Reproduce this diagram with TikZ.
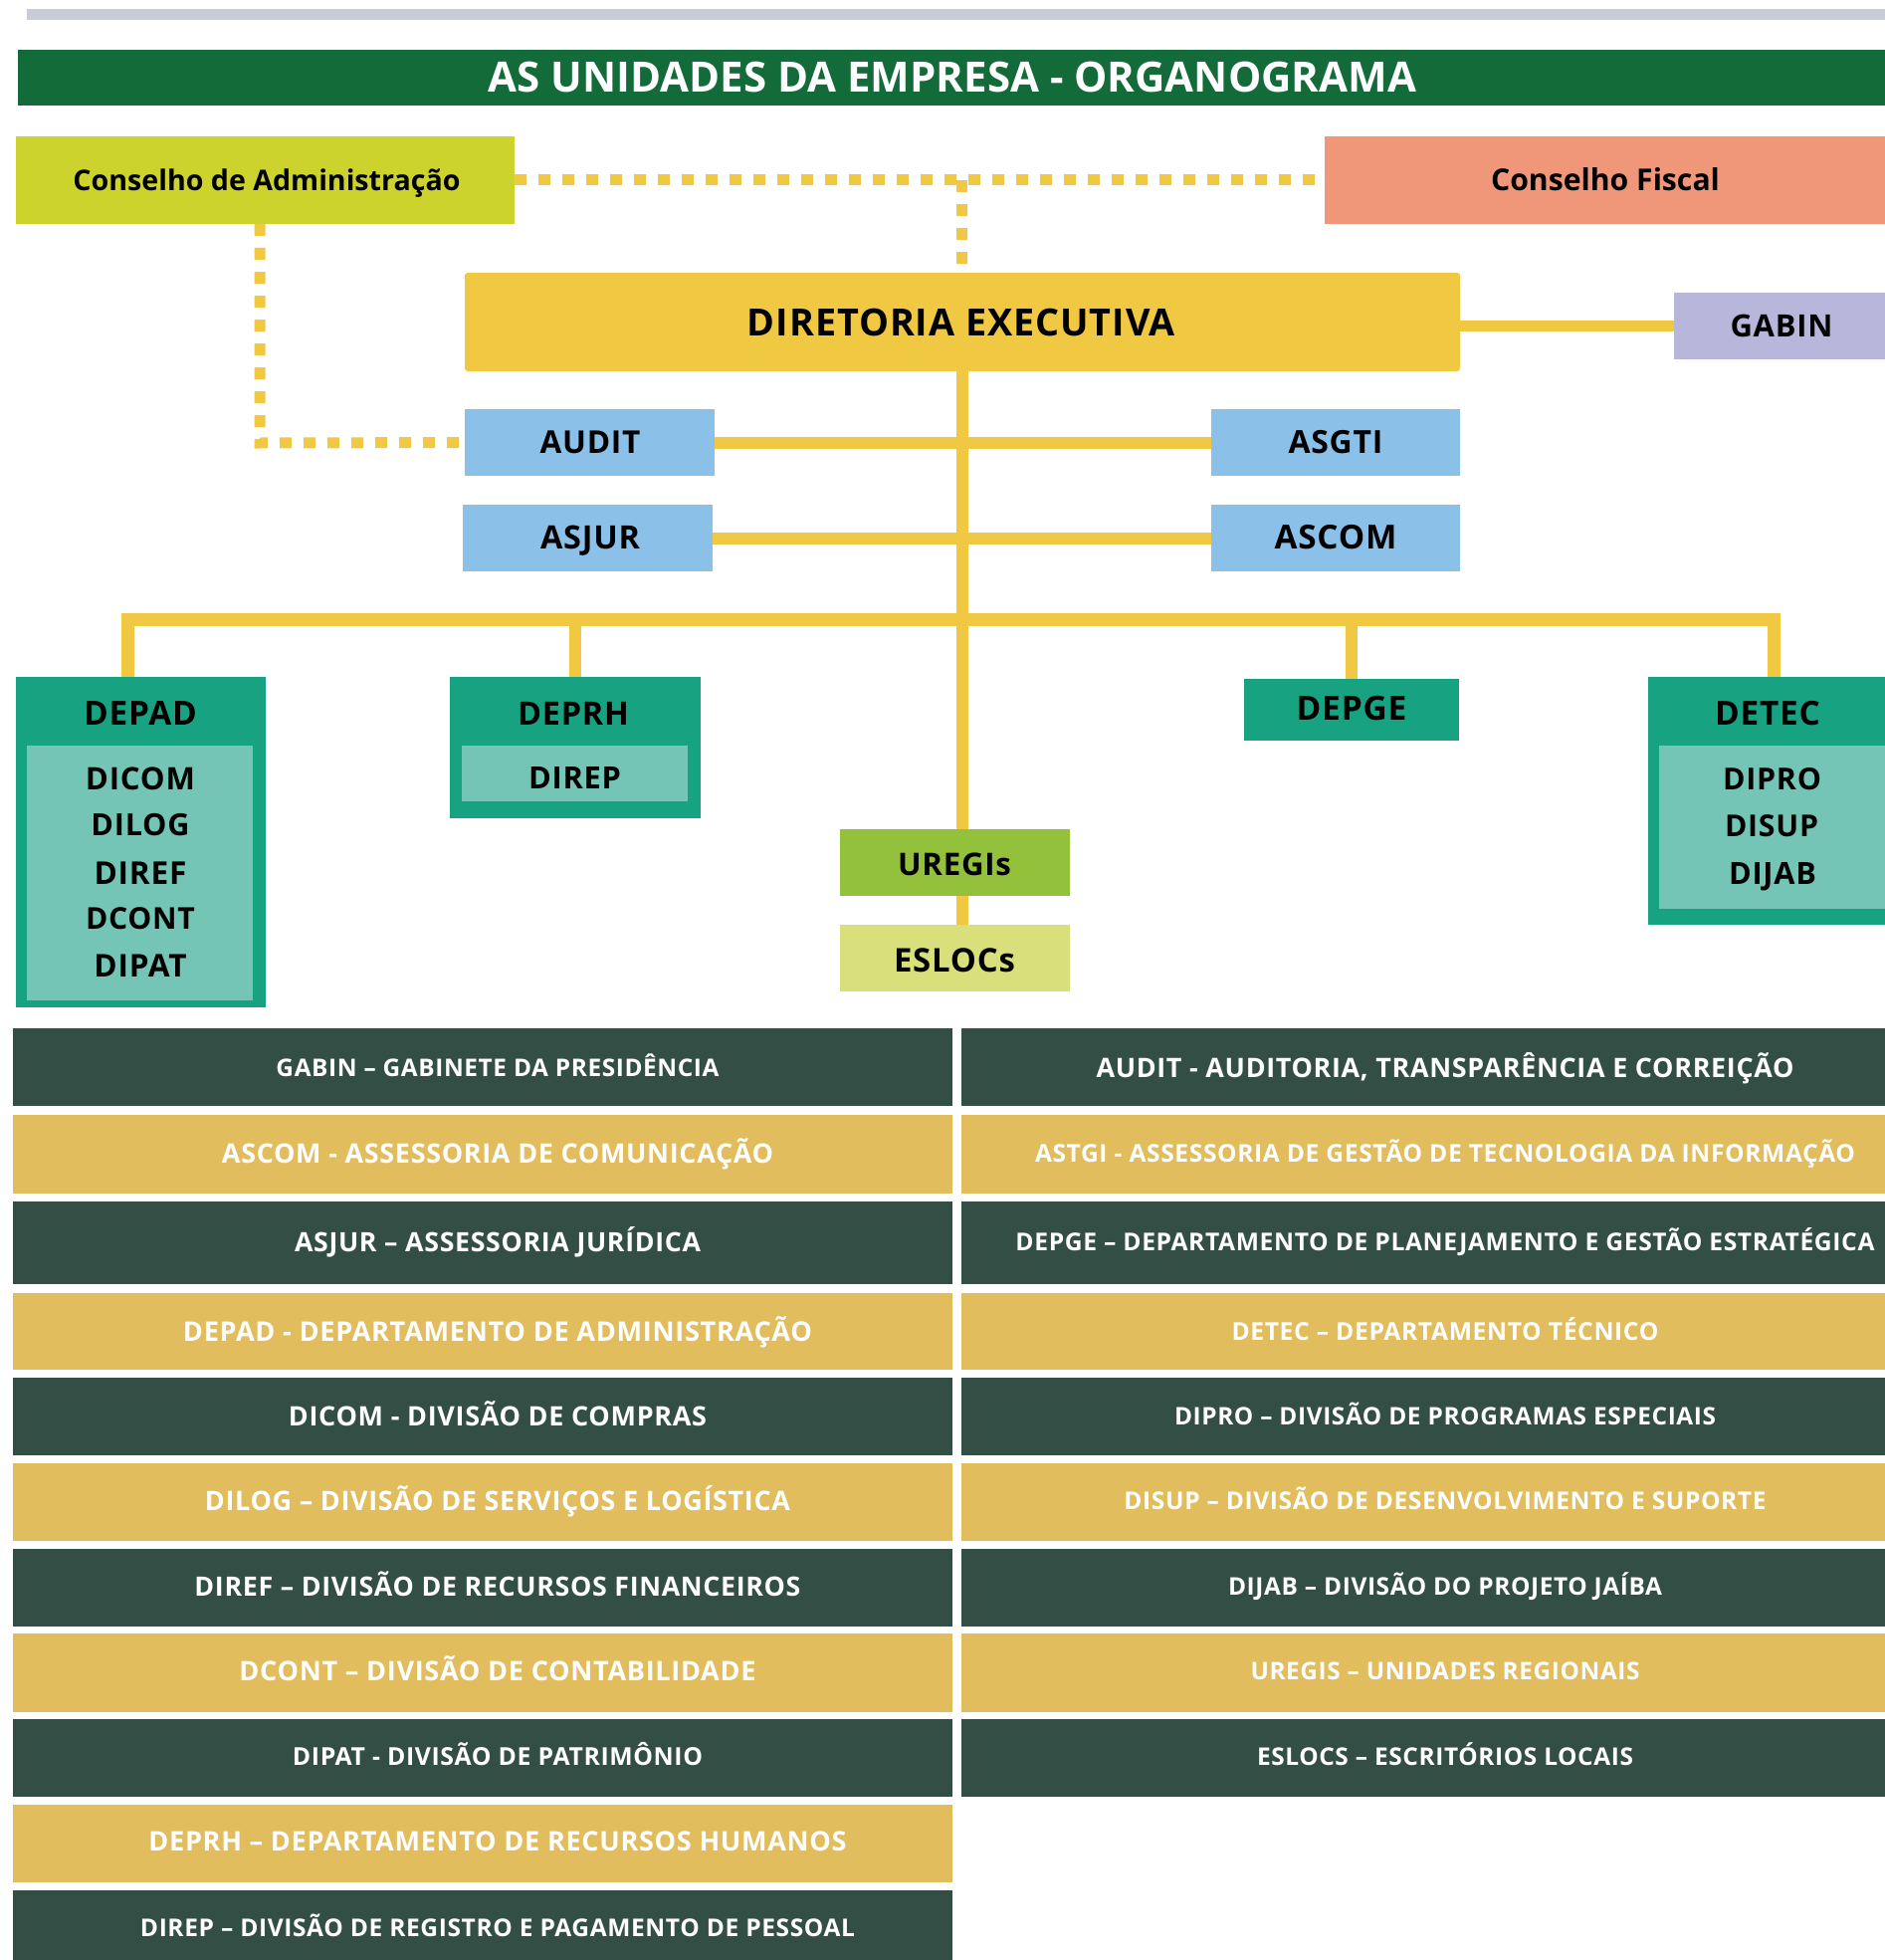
\documentclass[tikz,border=0pt]{standalone}
\usepackage{fontspec}
\usepackage{graphicx}
\setmainfont{Open Sans}
\newfontfamily\lsfont{Open Sans}[LetterSpace=2.5]
\definecolor{cgray}{HTML}{C9CBD8}
\definecolor{ctitle}{HTML}{146B3A}
\definecolor{cadm}{HTML}{CDD32D}
\definecolor{cfis}{HTML}{F19779}
\definecolor{cyellow}{HTML}{F0C841}
\definecolor{cgabin}{HTML}{B9B6DB}
\definecolor{cblue}{HTML}{8BC1E9}
\definecolor{cteal}{HTML}{17A382}
\definecolor{clight}{HTML}{74C5B5}
\definecolor{curegis}{HTML}{93C13B}
\definecolor{ceslocs}{HTML}{D9E07B}
\definecolor{cdark}{HTML}{334F45}
\definecolor{crow}{HTML}{E2BD5D}
\newcommand{\fitw}[2]{\resizebox{#1pt}{!}{\rule[-6pt]{0pt}{26.3pt}#2}}
\tikzset{
  box/.style={rectangle, inner sep=0pt, outer sep=0pt, draw=none},
  conn/.style={draw=cyellow, line width=12pt},
  dots/.style={draw=cyellow, line width=11pt, dash pattern=on 12pt off 12pt},
  lbl/.style={inner sep=0pt, outer sep=0pt, text=black},
  wlbl/.style={inner sep=0pt, outer sep=0pt, text=white},
  darkrow/.style={box, fill=cdark},
  yelrow/.style={box, fill=crow},
}
\begin{document}
\begin{tikzpicture}[x=1pt, y=-1pt, font=\fontsize{20}{24}\selectfont\bfseries]
\useasboundingbox (0,0) rectangle (1894,1969);
% top bar and title
\node[box, fill=cgray, minimum width=1867pt, minimum height=11pt] (topbar) at (960.5,14.5) {};
\node[box, fill=ctitle, minimum width=1876pt, minimum height=56pt] (title) at (956,78) {};
\node[wlbl] (titletext) at (957,78) {\fitw{932}{AS UNIDADES DA EMPRESA - ORGANOGRAMA}};
% councils
\node[box, fill=cadm, minimum width=501pt, minimum height=88pt] (consAdm) at (266.5,181) {};
\node[lbl] (consAdmT) at (268,181) {\fitw{389}{Conselho de Administração}};
\node[box, fill=cfis, minimum width=563pt, minimum height=88pt] (consFis) at (1612.5,181) {};
\node[lbl] (consFisT) at (1613,181) {\fitw{230}{Conselho Fiscal}};
% diretoria
\node[box, fill=cyellow, rounded corners=3pt, minimum width=1000pt, minimum height=99pt] (dirEx) at (967,323.5) {};
\node[lbl] (dirExT) at (966,324) {\fitw{430}{\lsfont DIRETORIA EXECUTIVA}};
\node[box, fill=cgabin, minimum width=212pt, minimum height=67pt] (gabin) at (1788,327.5) {};
\node[lbl] (gabinT) at (1790,327.5) {\fitw{103}{\lsfont GABIN}};
% assessorias
\node[box, fill=cblue, minimum width=251pt, minimum height=67pt] (audit) at (592.5,444.5) {};
\node[lbl] (auditT) at (593,444) {\fitw{101}{\lsfont AUDIT}};
\node[box, fill=cblue, minimum width=251pt, minimum height=67pt] (asjur) at (590.5,540.5) {};
\node[lbl] (asjurT) at (593,540) {\fitw{100}{\lsfont ASJUR}};
\node[box, fill=cblue, minimum width=250pt, minimum height=67pt] (asgti) at (1342,444.5) {};
\node[lbl] (asgtiT) at (1342,444) {\fitw{95}{\lsfont ASGTI}};
\node[box, fill=cblue, minimum width=250pt, minimum height=67pt] (ascom) at (1342,540.5) {};
\node[lbl] (ascomT) at (1342,540) {\fitw{123}{\lsfont ASCOM}};
% DEPAD
\node[box, fill=cteal, minimum width=251pt, minimum height=332pt] (depad) at (141.5,846) {};
\node[lbl] (depadT) at (141,717) {\fitw{114}{\lsfont DEPAD}};
\node[box, fill=clight, minimum width=227pt, minimum height=256pt] (depadIn) at (140.5,877) {};
\node[lbl] (dicom) at (141,782) {\fitw{110}{\lsfont DICOM}};
\node[lbl] (dilog) at (141,829) {\fitw{99}{\lsfont DILOG}};
\node[lbl] (diref) at (141,877) {\fitw{93}{\lsfont DIREF}};
\node[lbl] (dcont) at (141,923) {\fitw{110}{\lsfont DCONT}};
\node[lbl] (dipat) at (141,970) {\fitw{93}{\lsfont DIPAT}};
% DEPRH
\node[box, fill=cteal, minimum width=252pt, minimum height=142pt] (deprh) at (578,751) {};
\node[lbl] (deprhT) at (576,717) {\fitw{112}{\lsfont DEPRH}};
\node[box, fill=clight, minimum width=227pt, minimum height=56pt] (deprhIn) at (577.5,777) {};
\node[lbl] (direp) at (577.5,781) {\fitw{93}{\lsfont DIREP}};
% DEPGE
\node[box, fill=cteal, minimum width=216pt, minimum height=62pt] (depge) at (1358,713) {};
\node[lbl] (depgeT) at (1358,712) {\fitw{111}{\lsfont DEPGE}};
% DETEC
\node[box, fill=cteal, minimum width=238pt, minimum height=249pt] (detec) at (1775,804.5) {};
\node[lbl] (detecT) at (1776,717) {\fitw{106}{\lsfont DETEC}};
\node[box, fill=clight, minimum width=227pt, minimum height=164pt] (detecIn) at (1780.5,831) {};
\node[lbl] (dipro) at (1780.5,783) {\fitw{99}{\lsfont DIPRO}};
\node[lbl] (disup) at (1780,830) {\fitw{94}{\lsfont DISUP}};
\node[lbl] (dijab) at (1781,878) {\fitw{88}{\lsfont DIJAB}};
% UREGIs / ESLOCs
\node[box, fill=curegis, minimum width=231pt, minimum height=67pt] (uregis) at (959.5,866.5) {};
\node[lbl] (uregisT) at (959,868) {\fitw{114}{\lsfont UREGIs}};
\node[box, fill=ceslocs, minimum width=231pt, minimum height=67pt] (eslocs) at (959.5,962.5) {};
\node[lbl] (eslocsT) at (959,965) {\fitw{122}{\lsfont ESLOCs}};
% connectors
\draw[conn] (dirEx.south) -- (dirEx.south |- uregis.north);
\draw[conn] (uregis.south -| dirEx.south) -- (eslocs.north -| dirEx.south);
\draw[conn] (audit.east) -- (asgti.west);
\draw[conn] (asjur.east) -- (ascom.west);
\draw[conn, line width=11pt] (dirEx.east |- gabin.west) -- (gabin.west);
\coordinate (bl) at (128,622);
\coordinate (br) at (1782,622);
\draw[conn, line width=13pt] (bl |- depad.north) -- (bl) -- (br) -- (br |- detec.north);
\draw[conn] (deprh.north) -- (deprh.north |- bl);
\draw[conn] (depge.north) -- (depge.north |- bl);
% dotted links
\draw[dots] (consAdm.east) -- (consFis.west);
\coordinate (mid) at (966,181);
\draw[dots] (mid) -- (mid |- dirEx.north);
\coordinate (lc) at (261,445);
\draw[dots] (consAdm.south -| lc) -- (lc) -- (audit.west);
% table left column
\node[darkrow, minimum width=944pt, minimum height=78pt] (l1) at (485,1072) {};
\node[yelrow, minimum width=944pt, minimum height=79pt] (l2) at (485,1159.5) {};
\node[darkrow, minimum width=944pt, minimum height=83pt] (l3) at (485,1248.5) {};
\node[yelrow, minimum width=944pt, minimum height=77pt] (l4) at (485,1337.5) {};
\node[darkrow, minimum width=944pt, minimum height=78pt] (l5) at (485,1423) {};
\node[yelrow, minimum width=944pt, minimum height=78pt] (l6) at (485,1509) {};
\node[darkrow, minimum width=944pt, minimum height=78pt] (l7) at (485,1595) {};
\node[yelrow, minimum width=944pt, minimum height=79pt] (l8) at (485,1680.5) {};
\node[darkrow, minimum width=944pt, minimum height=78pt] (l9) at (485,1766) {};
\node[yelrow, minimum width=944pt, minimum height=78pt] (l10) at (485,1852) {};
\node[darkrow, minimum width=944pt, minimum height=70pt] (l11) at (485,1934) {};
\node[wlbl] (lt1) at (500,1073) {\fitw{445}{\lsfont GABIN – GABINETE DA PRESIDÊNCIA}};
\node[wlbl] (lt2) at (500,1159) {\fitw{554}{\lsfont ASCOM - ASSESSORIA DE COMUNICAÇÃO}};
\node[wlbl] (lt3) at (500,1248) {\fitw{408}{\lsfont ASJUR – ASSESSORIA JURÍDICA}};
\node[wlbl] (lt4) at (500,1338) {\fitw{632}{\lsfont DEPAD - DEPARTAMENTO DE ADMINISTRAÇÃO}};
\node[wlbl] (lt5) at (500,1423) {\fitw{420}{\lsfont DICOM - DIVISÃO DE COMPRAS}};
\node[wlbl] (lt6) at (500,1508) {\fitw{588}{\lsfont DILOG – DIVISÃO DE SERVIÇOS E LOGÍSTICA}};
\node[wlbl] (lt7) at (500,1594) {\fitw{609}{\lsfont DIREF – DIVISÃO DE RECURSOS FINANCEIROS}};
\node[wlbl] (lt8) at (500,1679) {\fitw{519}{\lsfont DCONT – DIVISÃO DE CONTABILIDADE}};
\node[wlbl] (lt9) at (500,1765) {\fitw{412}{\lsfont DIPAT - DIVISÃO DE PATRIMÔNIO}};
\node[wlbl] (lt10) at (500,1850) {\fitw{701}{\lsfont DEPRH – DEPARTAMENTO DE RECURSOS HUMANOS}};
\node[wlbl] (lt11) at (500,1937) {\fitw{718}{\lsfont DIREP – DIVISÃO DE REGISTRO E PAGAMENTO DE PESSOAL}};
% table right column
\node[darkrow, minimum width=928pt, minimum height=78pt] (r1) at (1430,1072) {};
\node[yelrow, minimum width=928pt, minimum height=79pt] (r2) at (1430,1159.5) {};
\node[darkrow, minimum width=928pt, minimum height=83pt] (r3) at (1430,1248.5) {};
\node[yelrow, minimum width=928pt, minimum height=77pt] (r4) at (1430,1337.5) {};
\node[darkrow, minimum width=928pt, minimum height=78pt] (r5) at (1430,1423) {};
\node[yelrow, minimum width=928pt, minimum height=78pt] (r6) at (1430,1509) {};
\node[darkrow, minimum width=928pt, minimum height=78pt] (r7) at (1430,1595) {};
\node[yelrow, minimum width=928pt, minimum height=79pt] (r8) at (1430,1680.5) {};
\node[darkrow, minimum width=928pt, minimum height=78pt] (r9) at (1430,1766) {};
\node[wlbl] (rt1) at (1452,1073) {\fitw{701}{\lsfont AUDIT - AUDITORIA, TRANSPARÊNCIA E CORREIÇÃO}};
\node[wlbl] (rt2) at (1452,1159) {\fitw{824}{\lsfont ASTGI - ASSESSORIA DE GESTÃO DE TECNOLOGIA DA INFORMAÇÃO}};
\node[wlbl] (rt3) at (1452,1248) {\fitw{863}{\lsfont DEPGE – DEPARTAMENTO DE PLANEJAMENTO E GESTÃO ESTRATÉGICA}};
\node[wlbl] (rt4) at (1452,1338) {\fitw{429}{\lsfont DETEC – DEPARTAMENTO TÉCNICO}};
\node[wlbl] (rt5) at (1452,1423) {\fitw{544}{\lsfont DIPRO – DIVISÃO DE PROGRAMAS ESPECIAIS}};
\node[wlbl] (rt6) at (1452,1508) {\fitw{645}{\lsfont DISUP – DIVISÃO DE DESENVOLVIMENTO E SUPORTE}};
\node[wlbl] (rt7) at (1452,1594) {\fitw{436}{\lsfont DIJAB – DIVISÃO DO PROJETO JAÍBA}};
\node[wlbl] (rt8) at (1452,1679) {\fitw{391}{\lsfont UREGIS – UNIDADES REGIONAIS}};
\node[wlbl] (rt9) at (1452,1765) {\fitw{378}{\lsfont ESLOCS – ESCRITÓRIOS LOCAIS}};
\end{tikzpicture}
\end{document}
